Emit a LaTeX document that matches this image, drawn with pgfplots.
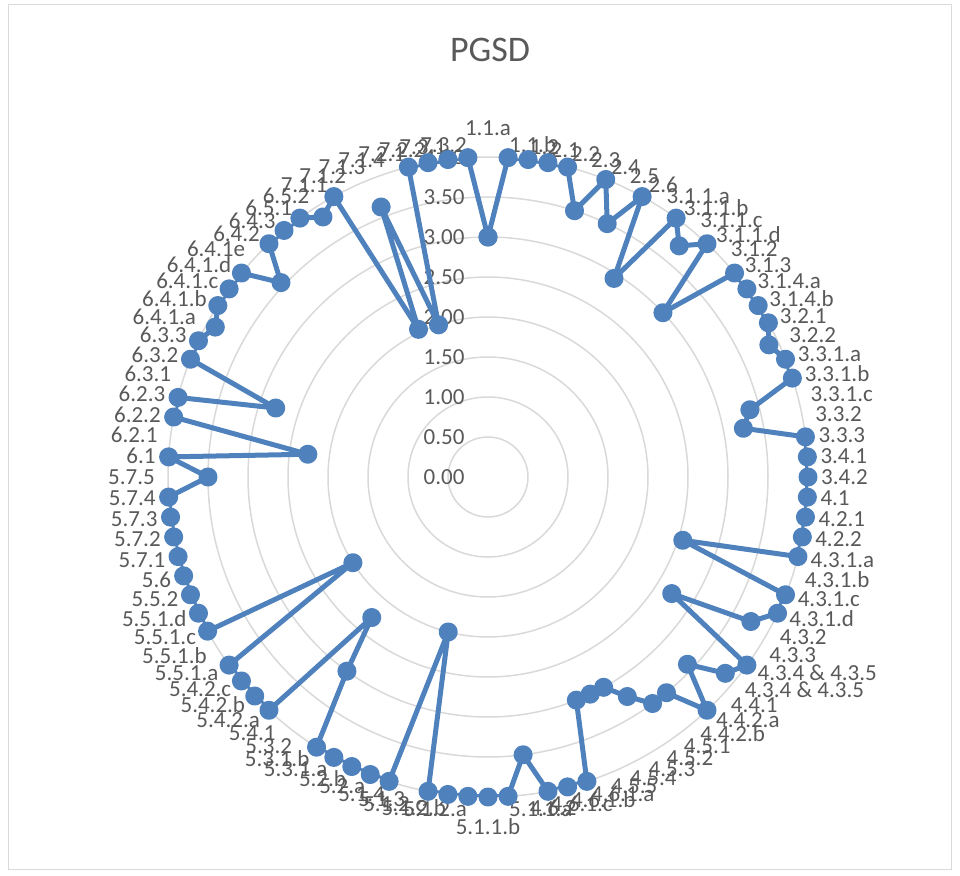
\documentclass[border=0pt]{standalone}
\usepackage{pgfplots}
\pgfplotsset{compat=1.18}
\usepgfplotslibrary{polar}
\usepackage{fontspec}
\setmainfont{Carlito}
\definecolor{serblue}{HTML}{4F81BD}
\definecolor{txtgray}{HTML}{595959}
\definecolor{gridgray}{HTML}{D9D9D9}
\newcommand\setlabanchor{%
  \pgfmathparse{cos(\tick)}%
  \ifdim\pgfmathresult pt>0.05pt \def\labanch{west}\def\labr{13}\else
    \ifdim\pgfmathresult pt<-0.05pt \def\labanch{east}\def\labr{13}\else
      \pgfmathparse{sin(\tick)}%
      \ifdim\pgfmathresult pt>0pt \def\labanch{south}\def\labr{21}\else\def\labanch{north}\def\labr{21}\fi
    \fi
  \fi}
\begin{document}
\begin{tikzpicture}[x=1pt,y=1pt]
\path[use as bounding box] (0,0) rectangle (960,875);
\draw[gridgray, line width=1pt] (8,6) rectangle (951,870);
\node[txtgray, font=\fontsize{36}{40}\selectfont] at (490,825) {PGSD};
\begin{polaraxis}[
  at={(488pt,398pt)}, anchor=origin,
  scale only axis, width=640pt, height=640pt,
  xmin=90, xmax=450, ymin=0, ymax=4,
  ytick={0,0.5,1,1.5,2,2.5,3,3.5,4},
  yticklabel style={anchor=east, xshift=-20pt, text=txtgray, font=\fontsize{23}{27}\selectfont},
  /pgf/number format/.cd, fixed, fixed zerofill, precision=2, assume math mode=true,
  /pgfplots/.cd,
  xtick={90,446.4,442.8,439.2,435.6,432,428.4,424.8,421.2,417.6,414,410.4,406.8,403.2,399.6,396,392.4,388.8,385.2,381.6,378,374.4,370.8,367.2,363.6,360,356.4,352.8,349.2,345.6,342,338.4,334.8,331.2,327.6,324,320.4,316.8,313.2,309.6,306,302.4,298.8,295.2,291.6,288,284.4,280.8,277.2,273.6,270,266.4,262.8,259.2,255.6,252,248.4,244.8,241.2,237.6,234,230.4,226.8,223.2,219.6,216,212.4,208.8,205.2,201.6,198,194.4,190.8,187.2,183.6,180,176.4,172.8,169.2,165.6,162,158.4,154.8,151.2,147.6,144,140.4,136.8,133.2,129.6,126,122.4,118.8,115.2,111.6,108,104.4,100.8,97.2,93.6},
  xticklabels={1.1.a,1.1.b,1.2,2.1,2.2,2.3,2.4,2.5,2.6,3.1.1.a,3.1.1.b,3.1.1.c,3.1.1.d,3.1.2,3.1.3,3.1.4.a,3.1.4.b,3.2.1,3.2.2,3.3.1.a,3.3.1.b,3.3.1.c,3.3.2,3.3.3,3.4.1,3.4.2,4.1,4.2.1,4.2.2,4.3.1.a,4.3.1.b,4.3.1.c,4.3.1.d,4.3.2,4.3.3,{4.3.4 \& 4.3.5},{4.3.4 \& 4.3.5},4.4.1,4.4.2.a,4.4.2.b,4.5.1,4.5.2,4.5.3,4.5.4,4.5.5,4.6.1.a,4.6.1.b,4.6.1.c,4.6.2,5.1.1.a,5.1.1.b,5.1.2.a,5.1.2.b,5.1.2.c,5.1.3,5.1.4,5.2.a,5.2.b,5.3.1.a,5.3.1.b,5.3.2,5.4.1,5.4.2.a,5.4.2.b,5.4.2.c,5.5.1.a,5.5.1.b,5.5.1.c,5.5.1.d,5.5.2,5.6,5.7.1,5.7.2,5.7.3,5.7.4,5.7.5,6.1,6.2.1,6.2.2,6.2.3,6.3.1,6.3.2,6.3.3,6.4.1.a,6.4.1.b,6.4.1.c,6.4.1.d,6.4.1e,6.4.2,6.4.3,6.5.1,6.5.2,7.1.1,7.1.2,7.1.3,7.1.4,7.2.1,7.2.2,7.3.1,7.3.2},
  xticklabel style={text=txtgray, font=\fontsize{23}{27}\selectfont, inner sep=0pt,
    /utils/exec={\setlabanchor}, anchor=\labanch,
    xshift={\labr*cos(\tick)}, yshift={\labr*sin(\tick)}},
  major tick length=0pt,
  xmajorgrids=false, ymajorgrids=true,
  grid style={gridgray, line width=1.5pt},
  axis line style={draw=none},
]
\addplot[serblue, line width=5pt, line join=round, mark=*, mark size=7pt, mark options={fill=serblue, draw=serblue}] table[x=a, y=v] {
a v
90 3.0
446.4 4
442.8 4
439.2 4
435.6 4
432 3.5
428.4 4
424.8 3.5
421.2 4
417.6 2.94
414 4
410.4 3.75
406.8 4
403.2 3.0
399.6 4
396 4
392.4 4
388.8 4
385.2 3.88
381.6 4
378 4
374.4 3.38
370.8 3.25
367.2 4
363.6 4
360 4
356.4 4
352.8 4
349.2 4
345.6 4
342 2.56
338.4 4
334.8 4
331.2 3.75
327.6 2.72
324 4
320.4 3.85
316.8 3.42
313.2 4
309.6 3.5
306 3.5
302.4 3.25
298.8 3.0
295.2 3.0
291.6 3.0
288 4
284.4 4
280.8 4
277.2 3.5
273.6 4
270 4
266.4 4
262.8 4
259.2 4
255.6 2.0
252 4
248.4 4
244.8 4
241.2 4
237.6 4
234 3.0
230.4 2.28
226.8 4
223.2 4
219.6 4
216 4
212.4 2.0
208.8 4
205.2 4
201.6 4
198 4
194.4 4
190.8 4
187.2 4
183.6 4
180 3.5
176.4 4
172.8 2.27
169.2 4
165.6 4
162 2.79
158.4 4
154.8 4
151.2 3.89
147.6 4
144 4
140.4 4
136.8 3.55
133.2 4
129.6 4
126 4
122.4 3.85
118.8 4
115.2 2.04
111.6 3.63
108 2.0
104.4 4
100.8 4
97.2 4
93.6 4
90 3.0
};
\end{polaraxis}
\end{tikzpicture}
\end{document}
